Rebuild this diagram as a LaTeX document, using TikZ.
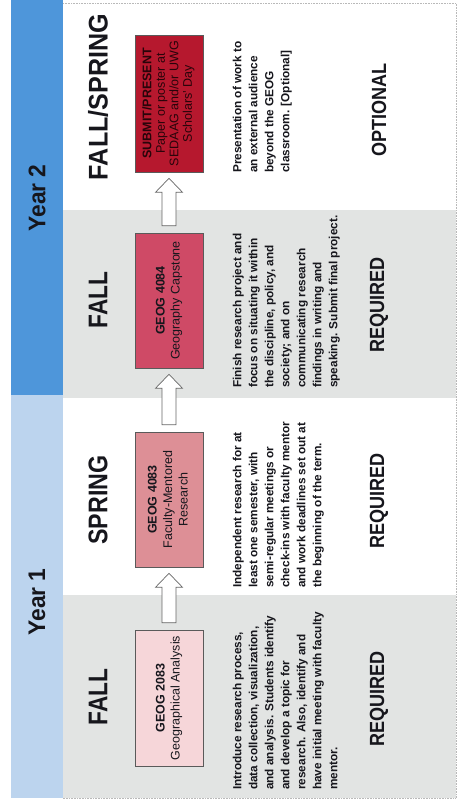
\documentclass[tikz,border=0pt]{standalone}
\usepackage{fontspec}
\setmainfont{Liberation Sans}
\usepackage{graphicx}
\usetikzlibrary{calc}
\definecolor{yeartwo}{RGB}{78,150,218}
\definecolor{yearone}{RGB}{188,212,238}
\definecolor{panelgray}{RGB}{226,228,227}
\definecolor{boxA}{RGB}{246,214,217}
\definecolor{boxB}{RGB}{221,143,150}
\definecolor{boxC}{RGB}{207,74,102}
\definecolor{boxD}{RGB}{182,24,46}
\definecolor{edgegray}{RGB}{90,90,90}
\definecolor{inkdark}{RGB}{22,22,28}
\definecolor{submitink}{RGB}{40,4,10}
\newcommand\rot[2]{\rotatebox{90}{\scalebox{#1}[1]{#2}}}
\newcommand\yearfont{\fontsize{24}{24}\selectfont\bfseries}
\newcommand\hdrfont{\fontsize{27}{27}\selectfont\bfseries}
\newcommand\reqfont{\fontsize{20.5}{20.5}\selectfont\bfseries}
\newcommand\boxtext[2]{{\fontsize{12.5}{#1}\selectfont\begin{tabular}{@{}c@{}}#2\end{tabular}}}
\newcommand\desctext[1]{{\fontsize{11.8}{16}\selectfont\bfseries\begin{tabular}{@{}l@{}}#1\end{tabular}}}
\newcommand\flowarrow[2]{%
  \draw[blockarrow] let \p1=($(#1.north)+(0pt,7pt)$), \p2=($(#2.south)+(0pt,-6pt)$) in
    (\x1-7pt,\y1) -- (\x1-7pt,\y2-14pt) -- (\x1-13.5pt,\y2-14pt) -- (\x1,\y2)
    -- (\x1+13.5pt,\y2-14pt) -- (\x1+7pt,\y2-14pt) -- (\x1+7pt,\y1) -- cycle;}
\begin{document}
\begin{tikzpicture}[x=1pt,y=-1pt,
  every node/.style={inner sep=0pt, text=inkdark},
  course/.style={draw=edgegray, line width=0.6pt, minimum width=68pt, minimum height=136pt},
  blockarrow/.style={draw=gray!80!black, fill=white, line width=0.7pt, line join=miter},
  desc/.style={anchor=south west}]
\useasboundingbox (0,0) rectangle (459,801);
% backgrounds
\fill[yeartwo] (11,0) rectangle (63,395);
\fill[yearone] (11,395) rectangle (63,798);
\fill[panelgray] (63,210) rectangle (456,398);
\fill[panelgray] (63,595) rectangle (456,798);
\draw[gray!55, densely dotted, line width=0.6pt] (63,3) -- (456,3) -- (456,798) -- (63,798);
% year labels
\node (y2) at (37,198) {\rot{0.95}{\yearfont Year 2}};
\node (y1) at (37,602) {\rot{0.95}{\yearfont Year 1}};
% season headers
\node (h4) at (98,97) {\rot{0.93}{\hdrfont FALL/SPRING}};
\node (h3) at (98,300) {\rot{0.84}{\hdrfont FALL}};
\node (h2) at (98,500) {\rot{0.86}{\hdrfont SPRING}};
\node (h1) at (98,697) {\rot{0.84}{\hdrfont FALL}};
% course boxes
\node[course, fill=boxD, minimum height=137pt] (c4) at (169,103.5)
  {\rot{1}{\color{submitink}\boxtext{13.5}{\textbf{SUBMIT/PRESENT}\\Paper or poster at\\SEDAAG and/or UWG\\Scholars' Day}}};
\node[course, fill=boxC, minimum height=135pt] (c3) at (169,300.5)
  {\rot{1}{\boxtext{15}{\textbf{GEOG 4084}\\Geography Capstone}}};
\node[course, fill=boxB, minimum height=135pt] (c2) at (169,499.5)
  {\rot{1}{\boxtext{15.5}{\textbf{GEOG 4083}\\Faculty-Mentored\\Research}}};
\node[course, fill=boxA, minimum height=136pt] (c1) at (169,698)
  {\rot{1}{\boxtext{15}{\textbf{GEOG 2083}\\Geographical Analysis}}};
% arrows
\flowarrow{c1}{c2}
\flowarrow{c2}{c3}
\flowarrow{c3}{c4}
% descriptions
\node[desc] (d4) at (230,173) {\rot{1}{\desctext{Presentation of work to\\an external audience\\beyond the GEOG\\classroom. [Optional]}}};
\node[desc] (d3) at (230,388) {\rot{1}{\desctext{Finish research project and\\focus on situating it within\\the discipline, policy, and\\society; and on\\communicating research\\findings in writing and\\speaking. Submit final project.}}};
\node[desc] (d2) at (230,588) {\rot{1}{\desctext{Independent research for at\\least one semester, with\\semi-regular meetings or\\check-ins with faculty mentor\\and work deadlines set out at\\the beginning of the term.}}};
\node[desc] (d1) at (230,790) {\rot{1}{\desctext{Introduce research process,\\data collection, visualization,\\and analysis. Students identify\\and develop a topic for\\research. Also, identify and\\have initial meeting with faculty\\mentor.}}};
% requirement labels
\node (r4) at (379,110) {\rot{0.88}{\reqfont OPTIONAL}};
\node (r3) at (379,305) {\rot{0.88}{\reqfont REQUIRED}};
\node (r2) at (379,501) {\rot{0.88}{\reqfont REQUIRED}};
\node (r1) at (379,699) {\rot{0.88}{\reqfont REQUIRED}};
\end{tikzpicture}
\end{document}
